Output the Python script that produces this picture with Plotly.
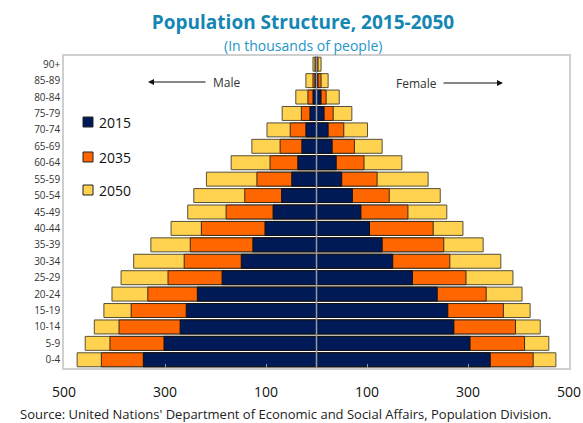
import plotly.graph_objects as go

age_groups = ["0-4", "5-9", "10-14", "15-19", "20-24", "25-29", "30-34", "35-39",
              "40-44", "45-49", "50-54", "55-59", "60-64", "65-69", "70-74",
              "75-79", "80-84", "85-89", "90+"]

male_2015 = [343, 302, 270, 258, 236, 187, 149, 126, 102, 86, 69, 49, 37, 29, 21, 13, 7, 3, 1]
male_2035 = [426, 409, 391, 367, 334, 294, 262, 250, 228, 179, 142, 118, 92, 72, 52, 30, 17, 7, 3]
male_2050 = [474, 458, 440, 421, 405, 387, 362, 328, 288, 255, 243, 218, 169, 128, 98, 68, 41, 21, 7]

female_2015 = [344, 304, 272, 260, 239, 190, 151, 130, 105, 88, 71, 50, 39, 31, 23, 15, 9, 3, 1]
female_2035 = [429, 412, 394, 370, 336, 296, 264, 252, 231, 181, 144, 120, 94, 75, 54, 33, 19, 9, 3]
female_2050 = [474, 460, 443, 423, 407, 389, 365, 330, 290, 258, 245, 221, 169, 130, 101, 70, 45, 23, 9]

years = ["2015", "2035", "2050"]
colors = {"2015": "#001a57", "2035": "#ff6600", "2050": "#ffd24f"}
outlines = {"2015": "#111111", "2035": "#3a2a1a", "2050": "#55503a"}

tick_vals = [-500, -300, -100, 100, 300, 500]
tick_text = ["500", "300", "100", "100", "300", "500"]

FONT = "Open Sans"
W, H = 583, 423
ML, MR, MT, MB = 64, 14, 56, 55
PW, PH = W - ML - MR, H - MT - MB


def px(xp):
    return (xp - ML) / PW


def py(yp):
    return (H - MB - yp) / PH


male = {"2015": male_2015, "2035": male_2035, "2050": male_2050}
female = {"2015": female_2015, "2035": female_2035, "2050": female_2050}

fig = go.Figure()
for yr in ["2050", "2035", "2015"]:
    fig.add_trace(go.Bar(
        y=age_groups, x=[-v for v in male[yr]], orientation="h", name=yr,
        marker=dict(color=colors[yr], line=dict(color=outlines[yr], width=1)),
        showlegend=False, hoverinfo="skip"))
    fig.add_trace(go.Bar(
        y=age_groups, x=female[yr], orientation="h", name=yr,
        marker=dict(color=colors[yr], line=dict(color=outlines[yr], width=1)),
        showlegend=False, hoverinfo="skip"))

shapes = [dict(type="line", xref="x", yref="paper", x0=0, x1=0, y0=0, y1=1,
               line=dict(color="#999999", width=1.5), layer="above")]
annotations = []

# custom legend
leg_y = {"2015": 122, "2035": 157, "2050": 190}
for yr in years:
    yc = leg_y[yr]
    shapes.append(dict(type="rect", xref="paper", yref="paper",
                       x0=px(83), x1=px(93), y0=py(yc + 5), y1=py(yc - 5),
                       fillcolor=colors[yr], line=dict(color="#222222", width=1)))
    annotations.append(dict(xref="paper", yref="paper", x=px(97), y=py(yc),
                            text=yr, showarrow=False, xanchor="left", yanchor="middle",
                            font=dict(family=FONT, size=14, color="#111111")))

# Male / Female labels with arrows
annotations.append(dict(xref="paper", yref="paper", x=px(226), y=py(82), text="Male",
                        showarrow=False, xanchor="center", yanchor="middle",
                        font=dict(family=FONT, size=12, color="#333333")))
annotations.append(dict(xref="paper", yref="paper", x=px(148), y=py(82), text="",
                        showarrow=True, ax=59, ay=0, arrowhead=2, arrowsize=1,
                        arrowwidth=1.2, arrowcolor="#111111"))
annotations.append(dict(xref="paper", yref="paper", x=px(416), y=py(83), text="Female",
                        showarrow=False, xanchor="center", yanchor="middle",
                        font=dict(family=FONT, size=12, color="#333333")))
annotations.append(dict(xref="paper", yref="paper", x=px(503), y=py(83), text="",
                        showarrow=True, ax=-61, ay=0, arrowhead=2, arrowsize=1,
                        arrowwidth=1.2, arrowcolor="#111111"))

# subtitle
annotations.append(dict(xref="paper", yref="paper", x=px(303), y=py(46),
                        text="(In thousands of people)", showarrow=False,
                        xanchor="center", yanchor="middle",
                        font=dict(family=FONT, size=14, color="#2596c8")))
# source
annotations.append(dict(xref="paper", yref="paper", x=px(18), y=py(414),
                        text="Source: United Nations' Department of Economic and Social Affairs, Population Division.",
                        showarrow=False, xanchor="left", yanchor="middle",
                        font=dict(family=FONT, size=13, color="#222222")))

fig.update_layout(
    width=W, height=H,
    margin=dict(l=ML, r=MR, t=MT, b=MB, autoexpand=False),
    barmode="overlay", bargap=0.15,
    plot_bgcolor="white", paper_bgcolor="white",
    title=dict(text="<b>Population Structure, 2015-2050</b>",
               x=303 / W, xanchor="center", xref="container",
               y=1 - 22 / H, yanchor="middle", yref="container",
               font=dict(family=FONT, size=19, color="#1486b3")),
    xaxis=dict(range=[-500, 500], tickvals=tick_vals, ticktext=tick_text,
               ticks="inside", ticklen=4, tickcolor="#999999",
               ticklabelstandoff=10,
               showgrid=False, zeroline=False, showline=True, mirror=True,
               linecolor="#cfcfcf", linewidth=1.5,
               tickfont=dict(family=FONT, size=14, color="#111111")),
    yaxis=dict(showgrid=False, zeroline=False, showline=True, mirror=True,
               linecolor="#cfcfcf", linewidth=1.5, ticks="",
               tickfont=dict(family=FONT, size=10, color="#333333")),
    shapes=shapes, annotations=annotations,
    showlegend=False,
)

fig.write_html("out.html", config={"responsive": False, "displayModeBar": False},
               post_script="document.body.style.margin='0';document.body.style.overflow='hidden';")
